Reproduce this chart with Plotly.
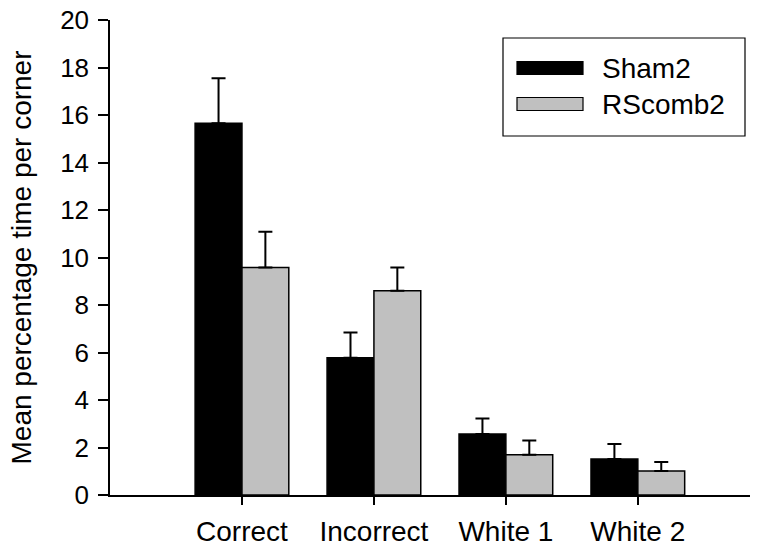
import plotly.graph_objects as go

categories = ["Correct", "Incorrect", "White 1", "White 2"]
sham2 = [15.65, 5.78, 2.57, 1.52]
sham2_err = [1.9, 1.06, 0.65, 0.63]
rscomb2 = [9.58, 8.6, 1.69, 1.01]
rscomb2_err = [1.5, 0.98, 0.6, 0.38]
series_names = ["Sham2", "RScomb2"]
series_colors = ["#000000", "#c0c0c0"]
y_ticks = list(range(0, 21, 2))

FONT = "Liberation Sans, Arial, sans-serif"
W, H = 762, 548
L, R, T, B = 110, 12, 20, 53
PW, PH = W - L - R, H - T - B

def px(x):
    return (x - L) / PW

def py(y):
    return (H - B - y) / PH

fig = go.Figure()
for name, vals, errs, col in [(series_names[0], sham2, sham2_err, series_colors[0]),
                              (series_names[1], rscomb2, rscomb2_err, series_colors[1])]:
    fig.add_trace(go.Bar(
        x=categories, y=vals, name=name,
        marker=dict(color=col, line=dict(color="#000000", width=1.5)),
        error_y=dict(type="data", array=errs, arrayminus=[0] * len(errs),
                     symmetric=False, color="#000000", thickness=2, width=7),
        showlegend=False,
    ))

# manual legend (box, swatches, text)
shapes = [dict(type="rect", xref="paper", yref="paper",
               x0=px(503), x1=px(745), y0=py(136), y1=py(38),
               line=dict(color="#000000", width=1.2), fillcolor="white")]
annotations = []
for i, (name, col) in enumerate(zip(series_names, series_colors)):
    yc = 68 + i * 36
    shapes.append(dict(type="rect", xref="paper", yref="paper",
                       x0=px(517), x1=px(583), y0=py(yc + 6.5), y1=py(yc - 6.5),
                       line=dict(color="#000000", width=1.2), fillcolor=col))
    annotations.append(dict(xref="paper", yref="paper", x=px(600), y=py(yc),
                            text=name, showarrow=False, xanchor="left", yanchor="middle",
                            font=dict(size=28, color="#000000", family=FONT)))

fig.update_layout(
    width=W, height=H,
    margin=dict(l=L, r=R, t=T, b=B, pad=0),
    paper_bgcolor="white", plot_bgcolor="white",
    barmode="group", bargap=0.29, bargroupgap=0,
    font=dict(family=FONT, color="#000000"),
    shapes=shapes, annotations=annotations,
    showlegend=False,
)
fig.update_xaxes(
    range=[-1, 3.85], showline=True, linecolor="#000000", linewidth=1.5,
    ticks="outside", ticklen=8, tickwidth=1.5, tickcolor="#000000",
    tickfont=dict(size=28, family=FONT, color="#000000"),
    ticklabelstandoff=3, showgrid=False, zeroline=False, automargin=False,
)
fig.update_yaxes(
    range=[0, 20], tickvals=y_ticks, showline=True, linecolor="#000000", linewidth=1.5,
    ticks="outside", ticklen=10, tickwidth=1.5, tickcolor="#000000",
    tickfont=dict(size=26, family=FONT, color="#000000"),
    ticklabelstandoff=4,
    title=dict(text="Mean percentage time per corner", standoff=20,
               font=dict(size=28, family=FONT, color="#000000")),
    showgrid=False, zeroline=False, automargin=False,
)

fig.write_html("out.html")
